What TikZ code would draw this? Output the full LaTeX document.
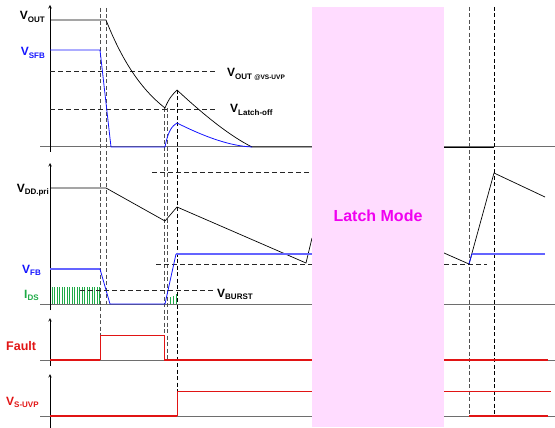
\documentclass[tikz,border=0pt]{standalone}
\usepackage{fontspec}
\setmainfont{Liberation Sans}
\usetikzlibrary{arrows,positioning}
\definecolor{axisgray}{RGB}{110,110,110}
\definecolor{guidegray}{RGB}{80,80,80}
\definecolor{sigblue}{RGB}{20,20,255}
\definecolor{fbblue}{RGB}{100,100,255}
\definecolor{sigred}{RGB}{225,20,20}
\definecolor{idsgreen}{RGB}{30,170,70}
\definecolor{latchpink}{RGB}{255,220,255}
\definecolor{latchtext}{RGB}{240,0,240}
\newcommand{\siglab}[2]{\fontsize{12}{12}\selectfont #1\raisebox{-2.5pt}{\fontsize{8}{8}\selectfont #2}}
\tikzset{
  haxis/.style={axisgray, line width=1pt},
  vaxis/.style={black, line width=0.6pt, -stealth},
  guidegrey/.style={guidegray, line width=0.7pt, dash pattern=on 4pt off 2.5pt},
  guideblack/.style={black, line width=0.7pt, dash pattern=on 4pt off 2.5pt},
  level/.style={black!85, line width=0.7pt, dash pattern=on 5pt off 3pt},
  trace/.style={black, line width=0.7pt},
  bluetrace/.style={sigblue, line width=0.8pt},
  fbtrace/.style={fbblue, line width=1.2pt},
  redtrace/.style={sigred, line width=0.8pt},
  redlow/.style={sigred, line width=1.4pt},
  idsbar/.style={idsgreen, line width=0.9pt},
  siglabel/.style={font=\bfseries, inner sep=0pt},
}
\begin{document}
\begin{tikzpicture}[x=1pt, y=-1pt]
  \useasboundingbox (0,0) rectangle (555,428);

  % axes
  \foreach \y in {147,304,360,416}
    \draw[haxis] (40,\y) -- (555,\y);
  \draw[vaxis] (50,152) -- (50,5);
  \draw[vaxis] (50,310) -- (50,163);
  \draw[vaxis] (50,366) -- (50,318);
  \draw[vaxis] (50,428) -- (50,374);

  % vertical guides
  \draw[guidegrey] (100,8) -- (100,360);
  \draw[guidegrey] (106,8) -- (106,304);
  \draw[guidegrey] (164,108) -- (164,360);
  \draw[guidegrey] (167,108) -- (167,360);
  \draw[guideblack] (177,90) -- (177,391);
  \draw[guidegrey] (469,7) -- (469,416);
  \draw[guideblack] (494,7) -- (494,416);

  % level lines
  \draw[level] (50,71) -- (217,71);
  \draw[level] (50,109) -- (217,109);
  \draw[level] (152,172) -- (312,172);
  \draw[level] (156,264) -- (312,264);
  \draw[level] (444,264) -- (487,264);

  % V_OUT
  \draw[trace] (50,20) -- (106,20)
    plot[domain=106:165, samples=40, smooth] (\x,{147-127*exp(-(\x-106)/50)})
    .. controls (169,98) and (173,94) .. (177,90)
    .. controls (205,116) and (230,136) .. (252,147) -- (312,147);
  \draw[trace, line width=0.5pt] (444,147) -- (494,147);
  % V_SFB
  \draw[bluetrace] (50,50) -- (100,50) -- (111,147) -- (165,147)
    .. controls (168,131) and (172,126) .. (177,123)
    .. controls (205,137) and (230,146) .. (252,147);

  % V_DD.pri
  \draw[trace] (50,188) -- (106,188) -- (165,221) -- (177,207)
    -- (306,263) -- (312,238);
  \draw[trace] (444,253) -- (469,264) -- (494,173) -- (545,197);
  % V_FB
  \draw[fbtrace] (50,269) -- (100,269);
  \draw[bluetrace] (100,269) -- (110,304) -- (165,304) -- (176,254);
  \draw[fbtrace] (176,254) -- (312,254);
  \draw[bluetrace] (469,264) -- (472,254);
  \draw[fbtrace] (472,254) -- (545,254);
  % I_DS
  \foreach \x in {52,54.5,...,100}
    \draw[idsbar] (\x,287) -- (\x,304);
  \draw[idsbar] (170,297) -- (170,304);
  \draw[idsbar] (173.3,296) -- (173.3,304);
  \draw[idsbar] (176.7,294) -- (176.7,304);
  \draw[level] (80,290) -- (213,290);

  % Fault
  \draw[redlow] (50,360) -- (100,360);
  \draw[redtrace] (100,360) -- (100,335) -- (164,335) -- (164,360);
  \draw[redlow] (164,360) -- (312,360);
  \draw[redlow] (444,360) -- (548,360);
  % V_S-UVP
  \draw[redlow] (50,416) -- (177,416);
  \draw[redtrace] (177,416) -- (177,391) -- (312,391);
  \draw[redtrace] (444,391) -- (551,391);
  \draw[redlow] (469,416) -- (548,416);

  % latch window
  \fill[latchpink] (312,7) rectangle (444,427);
  \node[font=\bfseries\fontsize{16}{16}\selectfont, text=latchtext] (latch) at (378,216) {Latch Mode};

  % labels
  \node[siglabel, anchor=base east] (vout) at (45,20) {\siglab{V}{OUT}};
  \node[siglabel, anchor=base east, text=sigblue] (vsfb) at (45,56) {\siglab{V}{SFB}};
  \node[siglabel, anchor=base east] (vdd) at (49,192) {\siglab{V}{DD.pri}};
  \node[siglabel, anchor=base west, text=sigblue] (vfb) at (22,273) {\siglab{V}{FB}};
  \node[siglabel, anchor=base west, text=idsgreen] (ids) at (24,298) {\siglab{I}{DS}};
  \node[siglabel, anchor=base west, text=sigred, font=\bfseries\fontsize{12.5}{12}\selectfont] (fault) at (6,350) {Fault};
  \node[siglabel, anchor=base west, text=sigred] (vsuvp) at (6,405) {\siglab{V}{S-UVP}};
  \node[siglabel, anchor=base west] (voutuvp) at (227,77)
    {\fontsize{12}{12}\selectfont V\raisebox{-2.5pt}{\fontsize{8}{8}\selectfont OUT \fontsize{6.5}{6.5}\selectfont @VS-UVP}};
  \node[siglabel, anchor=base west] (vlatch) at (230,113) {\siglab{V}{Latch-off}};
  \node[siglabel, anchor=base west] (vburst) at (217,297) {\siglab{V}{BURST}};
\end{tikzpicture}
\end{document}
